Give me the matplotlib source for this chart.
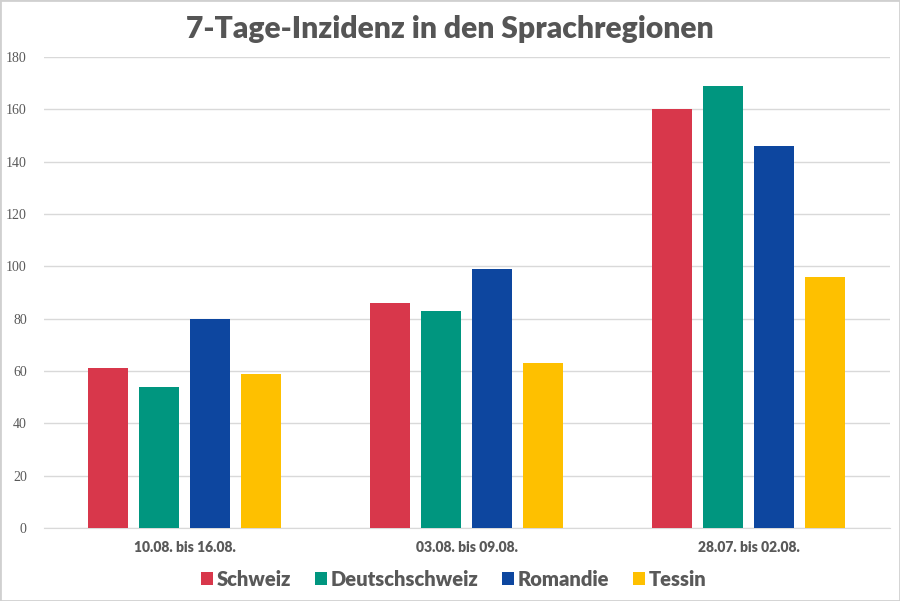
import matplotlib.pyplot as plt
import numpy as np
from matplotlib.patches import Rectangle

categories = ['10.08. bis 16.08.', '03.08. bis 09.08.', '28.07. bis 02.08.']
series = ['Schweiz', 'Deutschschweiz', 'Romandie', 'Tessin']
schweiz = [61, 86, 160]
deutschschweiz = [54, 83, 169]
romandie = [80, 99, 146]
tessin = [59, 63, 96]
colors = ['#D8374B', '#00967F', '#0D469F', '#FEC000']

values = [schweiz, deutschschweiz, romandie, tessin]

fig = plt.figure(figsize=(9, 6.01), dpi=100)
ax = fig.add_axes([43.5 / 900, 1 - 528 / 601, 846 / 900, 471 / 601])

x = np.arange(len(categories))
width = 0.142
step = 0.181
for i, (name, vals) in enumerate(zip(series, values)):
    ax.bar(x + (i - 1.5) * step, vals, width, color=colors[i], label=name, zorder=3)

ax.set_xlim(-0.5, 2.5)
ax.set_ylim(0, 180)
ax.set_yticks(range(0, 181, 20))
ax.yaxis.grid(True, color='#d9d9d9', linewidth=1, zorder=0)
for s in ['top', 'right', 'left']:
    ax.spines[s].set_visible(False)
ax.spines['bottom'].set_color('#d9d9d9')
ax.tick_params(axis='both', length=0)
ax.tick_params(axis='y', pad=12)
ax.set_yticklabels([str(v) for v in range(0, 181, 20)],
                   family='Liberation Serif', fontsize=10, color='#595959')
ax.set_xticks(x)
ax.set_xticklabels(categories, family='Lato', fontweight='heavy',
                   fontsize=10, color='#595959')
ax.tick_params(axis='x', pad=9)

fig.suptitle('7-Tage-Inzidenz in den Sprachregionen', family='Lato',
             fontweight='heavy', fontsize=21.6, color='#555555', y=0.975)

fig.legend(loc='center', bbox_to_anchor=(0.504, 1 - 579 / 601), ncol=4,
           frameon=False, handlelength=0.6, handleheight=0.6,
           handletextpad=0.2, columnspacing=1.15,
           prop={'family': 'Lato', 'weight': 'heavy', 'size': 14.5},
           labelcolor='#595959')

fig.patches.append(Rectangle((0, 0), 1, 1, transform=fig.transFigure,
                             fill=False, edgecolor='#d0d0d0', linewidth=2))

fig.savefig('out.png', dpi=100)
